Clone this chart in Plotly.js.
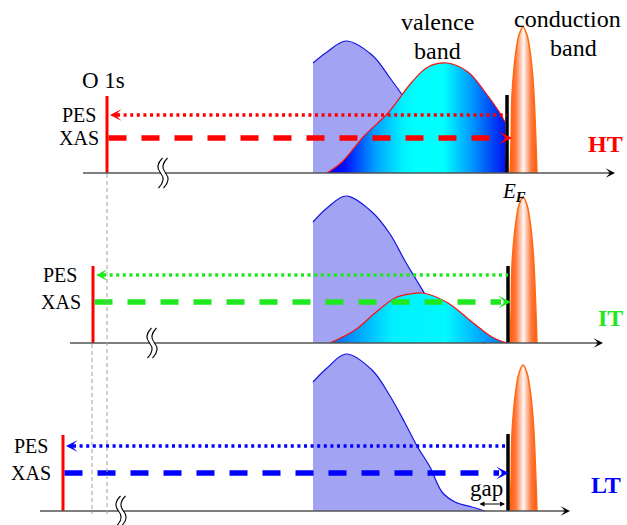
<!DOCTYPE html>
<html><head><meta charset="utf-8">
<script src="https://cdn.plot.ly/plotly-3.0.1.min.js"></script>
<style>html,body{margin:0;padding:0;background:#fff}</style>
</head><body><div id="chart" style="width:627px;height:525px"></div>
<script>
// ---------- data (schematic densities of states) ----------
const panelNames = ['HT', 'IT', 'LT'];
const lavenderX = [313, 327, 346, 372, 390, 405, 417, 430, 442, 455, 472, 485];
const lavenderH_HT = [110, 121, 132, 118, 95, 74, 55, 37, 16, 8, 3, 0];
const lavenderH_IT = [121, 135, 147, 131, 109, 82, 62, 40, 18, 8, 3, 0];
const lavenderH_LT = [129, 143, 157, 141, 115, 88, 65, 44, 19, 9, 4, 0];
const valenceX_HT = [327, 342, 365, 388, 412, 428, 447, 468, 485, 498, 505];
const valenceH_HT = [0, 11, 38, 60, 91, 106, 110, 101, 81, 63, 51];
const valenceX_IT = [330, 355, 375, 395, 410, 423, 448, 472, 492, 507];
const valenceH_IT = [0, 13, 30, 45, 49, 50, 40, 21, 6, 0];
const conductionX = [510, 511, 512, 514, 516, 519, 523, 527, 530, 532, 534, 536, 537];
const conductionH = [0, 30, 78, 105, 122, 138, 146, 138, 122, 105, 78, 30, 0];

// ---------- geometry of the three panels ----------
const geom = {
  base: [173, 343, 511],
  o1sX: [107, 93, 63], o1sTop: [96, 266, 435],
  pesY: [115, 275, 446], xasY: [138, 302, 473],
  fermiX: [507, 508, 508], fermiTop: [95, 266, 434],
  xasTip: [512, 511, 509],
  axisX0: [83, 70, 40], axisX1: [615, 603, 570],
  breakX: [163, 152, 121],
  labelX: [605, 610, 606], labelY: [144, 318, 485],
  pesLabelX: [98, 79, 50], xasLabelX: [101, 83, 53]
};
const lavH = [lavenderH_HT, lavenderH_IT, lavenderH_LT];
const valX = [valenceX_HT, valenceX_IT, null];
const valH = [valenceH_HT, valenceH_IT, null];

// ---------- styles ----------
const panelColor = ['#ff0000', '#1ee81e', '#0000ff'];
const valScales = [
  [[0, '#0000f0'], [0.1, '#0010ff'], [0.27, '#00a0ff'], [0.42, '#00f0ff'], [0.5, '#00ffff'], [0.65, '#00ffff'], [0.82, '#0090ff'], [1, '#0010f0']],
  [[0, '#0060e8'], [0.15, '#00a0ff'], [0.35, '#00f0ff'], [0.65, '#00f8ff'], [0.85, '#00a8ff'], [1, '#0068f0']]
];
const cbScale = [[0, '#ff5a0a'], [0.22, '#ff7a40'], [0.5, '#fff8f5'], [0.78, '#ff7a40'], [1, '#ff5a0a']];
const serif = "'Liberation Serif', 'DejaVu Serif', serif";

const traces = [];
const shapes = [];
const ann = [];
function baseline(x0, x1, y) {
  return {x: [x0, x1], y: [y, y], mode: 'lines', line: {width: 0}, hoverinfo: 'skip'};
}
for (let p = 0; p < 3; p++) {
  const b = geom.base[p];
  // lavender band
  traces.push(baseline(lavenderX[0], lavenderX[lavenderX.length - 1], b));
  traces.push({x: lavenderX, y: lavH[p].map(h => b - h), mode: 'lines', fill: 'tonexty',
    fillcolor: '#a3a3f3', line: {color: '#1515e0', width: 1.2, shape: 'spline'}, hoverinfo: 'skip'});
  // valence band
  if (valX[p]) {
    const vx = valX[p];
    traces.push(baseline(vx[0], vx[vx.length - 1] + 1, b));
    traces.push({x: vx, y: valH[p].map(h => b - h), mode: 'lines', fill: 'tonexty',
      fillgradient: {type: 'horizontal', colorscale: valScales[p]},
      line: {color: '#ff1010', width: 1.2, shape: 'spline'}, hoverinfo: 'skip'});
  }
  // conduction band
  traces.push(baseline(conductionX[0], conductionX[conductionX.length - 1], b));
  traces.push({x: conductionX, y: conductionH.map(h => b - h), mode: 'lines', fill: 'tonexty',
    fillgradient: {type: 'horizontal', colorscale: cbScale},
    line: {color: '#ff6a10', width: 1.5, shape: 'spline'}, hoverinfo: 'skip'});
  // O 1s level
  traces.push({x: [geom.o1sX[p], geom.o1sX[p]], y: [geom.o1sTop[p], b], mode: 'lines',
    line: {color: '#ff0000', width: 3}, hoverinfo: 'skip'});
  // Fermi level bar
  traces.push({x: [geom.fermiX[p], geom.fermiX[p]], y: [geom.fermiTop[p], b], mode: 'lines',
    line: {color: '#000000', width: 3.5}, hoverinfo: 'skip'});
  // PES dotted
  traces.push({x: [geom.o1sX[p] + 10, geom.fermiX[p]], y: [geom.pesY[p], geom.pesY[p]], mode: 'lines',
    line: {color: panelColor[p], width: 3.5, dash: '3px,3.6px'}, hoverinfo: 'skip'});
  // XAS dashed
  traces.push({x: [geom.o1sX[p] + 1.5, geom.xasTip[p] - 10], y: [geom.xasY[p], geom.xasY[p]], mode: 'lines',
    line: {color: panelColor[p], width: 5.5, dash: '18px,15px'}, hoverinfo: 'skip'});

  // arrow heads
  ann.push({x: geom.xasTip[p], y: geom.xasY[p], ax: geom.xasTip[p] - 9, ay: geom.xasY[p],
    xref: 'x', yref: 'y', axref: 'x', ayref: 'y', showarrow: true, arrowhead: 3,
    arrowsize: 1.05, arrowwidth: 2, arrowcolor: panelColor[p], text: ''});
  ann.push({x: geom.o1sX[p] + 3, y: geom.pesY[p], ax: geom.o1sX[p] + 12, ay: geom.pesY[p],
    xref: 'x', yref: 'y', axref: 'x', ayref: 'y', showarrow: true, arrowhead: 3,
    arrowsize: 0.95, arrowwidth: 2, arrowcolor: panelColor[p], text: ''});

  // axis
  shapes.push({type: 'line', xref: 'x', yref: 'y', x0: geom.axisX0[p], x1: geom.axisX1[p] - 4, y0: b, y1: b,
    line: {color: '#555555', width: 1.5}, layer: 'above'});
  ann.push({x: geom.axisX1[p], y: b, ax: geom.axisX1[p] - 8, ay: b, xref: 'x', yref: 'y', axref: 'x', ayref: 'y',
    showarrow: true, arrowhead: 3, arrowsize: 1.3, arrowwidth: 1.2, arrowcolor: '#000000', text: ''});
  // axis break
  const cx = geom.breakX[p];
  shapes.push({type: 'rect', xref: 'x', yref: 'y', x0: cx - 2, x1: cx + 2, y0: b - 1.5, y1: b + 1.5,
    fillcolor: '#ffffff', line: {width: 0}, layer: 'above'});
  [-2.5, 2.5].forEach(d => {
    const x = cx + d;
    shapes.push({type: 'path', xref: 'x', yref: 'y', layer: 'above',
      path: `M${x + 2},${b - 15} Q${x - 6},${b - 7} ${x},${b} T${x - 2},${b + 15}`,
      line: {color: '#000000', width: 1.1}});
  });

  // labels
  ann.push({x: geom.pesLabelX[p], y: geom.pesY[p], text: 'PES', showarrow: false, xanchor: 'right', yanchor: 'middle',
    font: {family: serif, size: 20, color: '#000'}});
  ann.push({x: geom.xasLabelX[p], y: geom.xasY[p], text: 'XAS', showarrow: false, xanchor: 'right', yanchor: 'middle',
    font: {family: serif, size: 20, color: '#000'}});
  ann.push({x: geom.labelX[p], y: geom.labelY[p], text: '<b>' + panelNames[p] + '</b>', showarrow: false,
    xanchor: 'center', yanchor: 'middle', font: {family: serif, size: 24, color: panelColor[p]}});
}
// gray guide lines
shapes.push({type: 'line', xref: 'x', yref: 'y', x0: 107, x1: 107, y0: 174, y1: 514,
  line: {color: '#a0a0a0', width: 1, dash: '4px,3px'}});
shapes.push({type: 'line', xref: 'x', yref: 'y', x0: 92, x1: 92, y0: 344, y1: 514,
  line: {color: '#a0a0a0', width: 1, dash: '4px,3px'}});

// other texts
const txt = (x, y, t, size, extra) => Object.assign({x: x, y: y, text: t, showarrow: false, xanchor: 'center',
  yanchor: 'middle', font: {family: serif, size: size, color: '#000'}}, extra || {});
ann.push(txt(103, 80, 'O 1s', 23));
ann.push(txt(437, 22, 'valence', 24));
ann.push(txt(437, 51, 'band', 24));
ann.push(txt(567, 19, 'conduction', 24));
ann.push(txt(573, 48, 'band', 24));
ann.push(txt(514, 192, '<i>E</i><sub><b><i>F</i></b></sub>', 21));
ann.push(txt(486, 488, 'gap', 23));
ann.push({x: 505, y: 504, ax: 478, ay: 504, xref: 'x', yref: 'y', axref: 'x', ayref: 'y', showarrow: true,
  arrowside: 'end+start', arrowhead: 2, startarrowhead: 2, arrowsize: 1, startarrowsize: 1, arrowwidth: 1,
  arrowcolor: '#000', text: ''});

const layout = {
  width: 627, height: 525, autosize: false,
  margin: {l: 0, r: 0, t: 0, b: 0, pad: 0},
  paper_bgcolor: '#ffffff', plot_bgcolor: '#ffffff',
  showlegend: false,
  xaxis: {range: [0, 627], visible: false, fixedrange: true},
  yaxis: {range: [525, 0], visible: false, fixedrange: true},
  shapes: shapes, annotations: ann
};
Plotly.newPlot('chart', traces, layout, {staticPlot: true, displayModeBar: false});
</script></body></html>
